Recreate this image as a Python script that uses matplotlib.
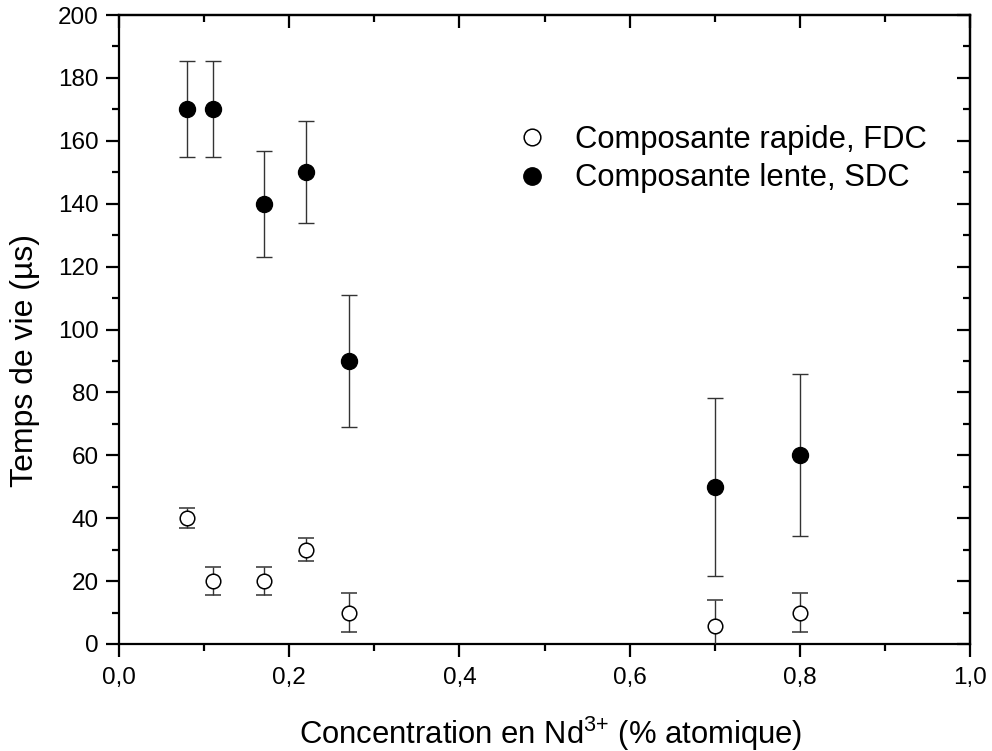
import matplotlib
matplotlib.use("Agg")
import matplotlib.pyplot as plt
from matplotlib.lines import Line2D
from matplotlib.ticker import MultipleLocator, FuncFormatter

plt.rcParams["font.family"] = ["Liberation Sans", "DejaVu Sans"]
plt.rcParams["mathtext.fontset"] = "custom"
plt.rcParams["mathtext.rm"] = "Liberation Sans"
plt.rcParams["mathtext.it"] = "Liberation Sans:italic"

# concentration (% at.)
conc = [0.08, 0.11, 0.17, 0.22, 0.27, 0.70, 0.80]
# fast component (FDC)
fast = [40, 20, 20, 30, 10, 5.8, 10]
fast_err = [3.2, 4.5, 4.5, 3.6, 6.3, 8.3, 6.3]
# slow component (SDC)
slow = [170, 170, 140, 150, 90, 50, 60]
slow_err = [15.3, 15.3, 16.8, 16.2, 21.1, 28.3, 25.8]

fig = plt.figure(figsize=(9.92, 7.51), dpi=100)
ax = fig.add_axes([119/992, 1-644/751, (970-119)/992, (644-15)/751])

ax.errorbar(conc, fast, yerr=fast_err, fmt="o", ms=10.5, mfc="white", mec="black",
            mew=1.1, ecolor="#333333", elinewidth=1.0, capsize=6, capthick=1.0, zorder=3)
ax.errorbar(conc, slow, yerr=slow_err, fmt="o", ms=11.5, mfc="black", mec="black",
            ecolor="#333333", elinewidth=1.0, capsize=6, capthick=1.0, zorder=3)

ax.set_xlim(0, 1.0)
ax.set_ylim(0, 200)
ax.xaxis.set_major_locator(MultipleLocator(0.2))
ax.xaxis.set_minor_locator(MultipleLocator(0.1))
ax.yaxis.set_major_locator(MultipleLocator(20))
ax.yaxis.set_minor_locator(MultipleLocator(10))
ax.xaxis.set_major_formatter(FuncFormatter(lambda v, p: f"{v:.1f}".replace(".", ",")))

for s in ax.spines.values():
    s.set_linewidth(1.6)
ax.tick_params(which="major", direction="out", length=9.5, width=1.6, labelsize=17.5, pad=5,
               top=False, right=False)
ax.tick_params(which="minor", direction="out", length=5, width=1.6, top=False, right=False)
ax.tick_params(axis="x", which="major", pad=7)

top = ax.secondary_xaxis("top")
top.xaxis.set_major_locator(MultipleLocator(0.2))
top.xaxis.set_minor_locator(MultipleLocator(0.1))
top.tick_params(which="major", direction="in", length=9.5, width=1.6, labeltop=False)
top.tick_params(which="minor", direction="in", length=5, width=1.6)
top.spines["top"].set_linewidth(1.6)

right = ax.secondary_yaxis("right")
right.yaxis.set_major_locator(MultipleLocator(20))
right.yaxis.set_minor_locator(MultipleLocator(10))
right.tick_params(which="major", direction="in", length=9.5, width=1.6, labelright=False)
right.tick_params(which="minor", direction="in", length=5, width=1.6)
right.spines["right"].set_linewidth(1.6)

ax.set_xlabel(r"Concentration en Nd$^{\text{3+}}$ (% atomique)", fontsize=22.3)
ax.xaxis.set_label_coords(0.507, -0.112)
ax.set_ylabel("Temps de vie (µs)", fontsize=23)
ax.yaxis.set_label_coords(-0.093, 0.45)

handles = [
    Line2D([], [], ls="none", marker="o", ms=12, mfc="white", mec="black", mew=1.1),
    Line2D([], [], ls="none", marker="o", ms=12.5, mfc="black", mec="black"),
]
ax.legend(handles, ["Composante rapide, FDC", "Composante lente, SDC"],
          loc="upper left", bbox_to_anchor=(0.467, 0.825), frameon=False, fontsize=22.3,
          handletextpad=0.89, labelspacing=0.27, handlelength=1.0, borderpad=0,
          borderaxespad=0)

fig.savefig("out.png", dpi=100, facecolor="white")
